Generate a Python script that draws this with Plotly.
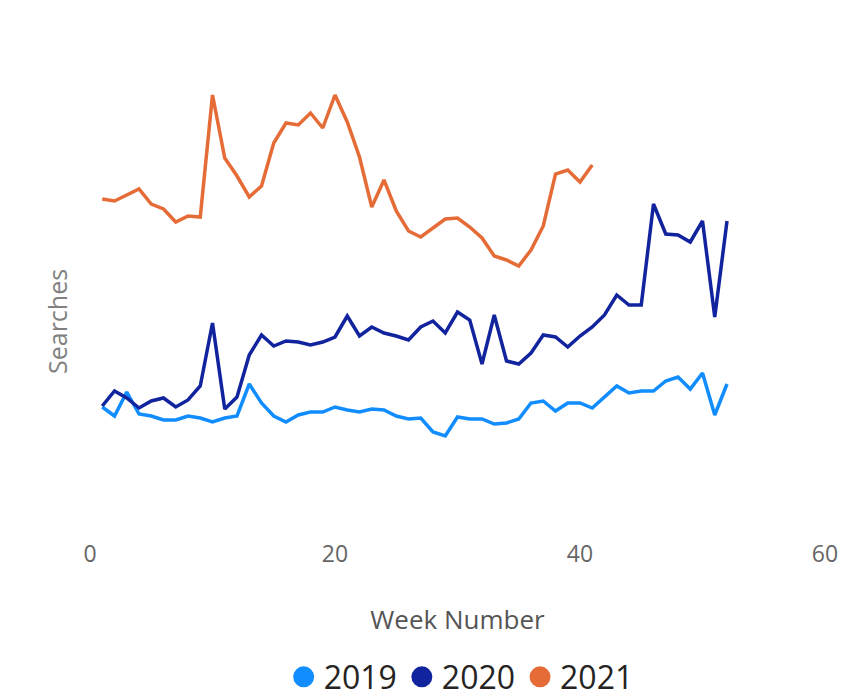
import plotly.graph_objects as go

weeks_2019 = list(range(1, 53))
searches_2019 = [93, 84, 108, 86, 84, 80, 80, 84, 82, 78, 82, 84, 116, 97, 84, 78, 85, 88, 88, 93,
                 90, 88, 91, 90, 84, 81, 82, 68, 64, 83, 81, 81, 76, 77, 81, 97, 99, 89, 97, 97,
                 92, 103, 114, 107, 109, 109, 119, 123, 111, 127, 85, 116]

weeks_2020 = list(range(1, 53))
searches_2020 = [94, 109, 102, 92, 99, 102, 93, 100, 114, 177, 91, 103, 145, 165, 154, 159, 158, 155, 158, 163,
                 184, 164, 173, 167, 164, 160, 173, 179, 167, 188, 180, 136, 185, 139, 136, 147, 165, 163, 153, 164,
                 173, 185, 205, 195, 195, 296, 266, 265, 258, 279, 183, 279]

weeks_2021 = list(range(1, 42))
searches_2021 = [301, 299, 305, 311, 296, 291, 278, 284, 283, 405, 342, 324, 303, 314, 357, 377, 375, 387, 372, 405,
                 378, 343, 293, 320, 289, 269, 263, 272, 281, 282, 273, 262, 244, 240, 234, 250, 274, 326, 330, 318,
                 335]

series_names = ["2019", "2020", "2021"]
series_colors = ["#118DFF", "#12239E", "#E66C37"]
x_ticks = [0, 20, 40, 60]

series = [(weeks_2019, searches_2019), (weeks_2020, searches_2020), (weeks_2021, searches_2021)]

fig = go.Figure()
for (xs, ys), name, color in zip(series, series_names, series_colors):
    fig.add_trace(go.Scatter(x=xs, y=ys, mode="lines", name=name, legendgroup=name,
                             showlegend=False, line=dict(color=color, width=3.5)))
for name, color in zip(series_names, series_colors):
    fig.add_trace(go.Scatter(x=[None], y=[None], mode="markers", name=name, legendgroup=name,
                             marker=dict(symbol="circle", size=16, color=color,
                                         line=dict(color=color, width=5))))

top, bottom = 40, 538
left, right = 90, 21
fig.update_layout(
    width=846, height=698,
    margin=dict(l=left, r=right, t=top, b=698 - bottom, autoexpand=False),
    paper_bgcolor="white", plot_bgcolor="white",
    font=dict(family="Open Sans, sans-serif"),
    xaxis=dict(range=[0, 60], tickvals=x_ticks, showgrid=False, zeroline=False, showline=False,
               tickfont=dict(size=23, color="#666666"), automargin=False, ticklabeloverflow="allow",
               title=dict(text="Week Number", font=dict(size=26, color="#555555"), standoff=42)),
    yaxis=dict(range=[-38, 460], showticklabels=False, showgrid=False, zeroline=False, showline=False,
               automargin=False),
    annotations=[dict(text="Searches", textangle=-90, xref="paper", yref="paper",
                      x=(57 - left) / (846 - right - left), y=(bottom - 322) / (bottom - top),
                      xanchor="center", yanchor="middle", showarrow=False,
                      font=dict(size=25, color="#808080"))],
    legend=dict(orientation="h", x=0.505, xanchor="center", yref="container", y=0.03, yanchor="middle",
                font=dict(size=32, color="#252423"), itemwidth=30, tracegroupgap=0),
    showlegend=True,
)

fig.write_html("out.html")
